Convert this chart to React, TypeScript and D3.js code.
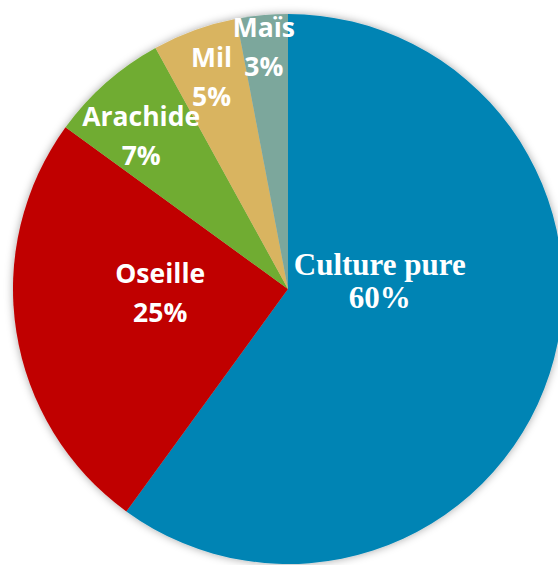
import React from "react";
import * as d3 from "d3";

const categories = ["Culture pure", "Oseille", "Arachide", "Mil", "Maïs"];
const values = [60, 25, 7, 5, 3];
const percentLabels = ["60%", "25%", "7%", "5%", "3%"];

const colors = ["#0184B4", "#C00000", "#70AC31", "#D9B461", "#7CA79C"];
// label placement (angle shift in degrees, radius fraction)
const labelAngleShift = [-23, 7, -2.5, 0, -0.3];
const labelRadiusFrac = [0.335, 0.465, 0.77, 0.82, 0.885];

const W = 558;
const H = 565;
const CX = 288;
const CY = 289;
const R = 275;

export default function App() {
  const pie = d3.pie<number>().value((d) => d).sort(null).startAngle(0).endAngle(2 * Math.PI);
  const arcs = pie(values);
  const arc = d3.arc<d3.PieArcDatum<number>>().innerRadius(0).outerRadius(R);

  return (
    <svg
      width={W}
      height={H}
      style={{ position: "absolute", left: 0, top: 0, background: "#fff" }}
    >
      <defs>
        <filter id="sh" x="-10%" y="-10%" width="120%" height="120%">
          <feDropShadow dx="0" dy="0" stdDeviation="4" floodColor="#000" floodOpacity="0.35" />
        </filter>
      </defs>
      <g transform={`translate(${CX},${CY})`}>
        <g filter="url(#sh)">
          {arcs.map((a, i) => (
            <path key={i} d={arc(a) || ""} fill={colors[i]} />
          ))}
        </g>
        {arcs.map((a, i) => {
          const mid = (a.startAngle + a.endAngle) / 2 + (labelAngleShift[i] * Math.PI) / 180;
          const r = labelRadiusFrac[i] * R;
          const x = Math.sin(mid) * r;
          const y = -Math.cos(mid) * r;
          const serif = i === 0;
          const fs = serif ? 31 : 26.5;
          const gap = serif ? 33 : 39;
          return (
            <text
              key={i}
              x={x}
              y={y}
              textAnchor="middle"
              fill="#fff"
              fontWeight="bold"
              fontSize={fs}
              fontFamily={serif ? "'Liberation Serif', 'Times New Roman', serif" : "'Open Sans', sans-serif"}
            >
              <tspan x={x} dy={-gap / 2 + fs * 0.35}>{categories[i]}</tspan>
              <tspan x={x} dy={gap}>{percentLabels[i]}</tspan>
            </text>
          );
        })}
      </g>
    </svg>
  );
}
